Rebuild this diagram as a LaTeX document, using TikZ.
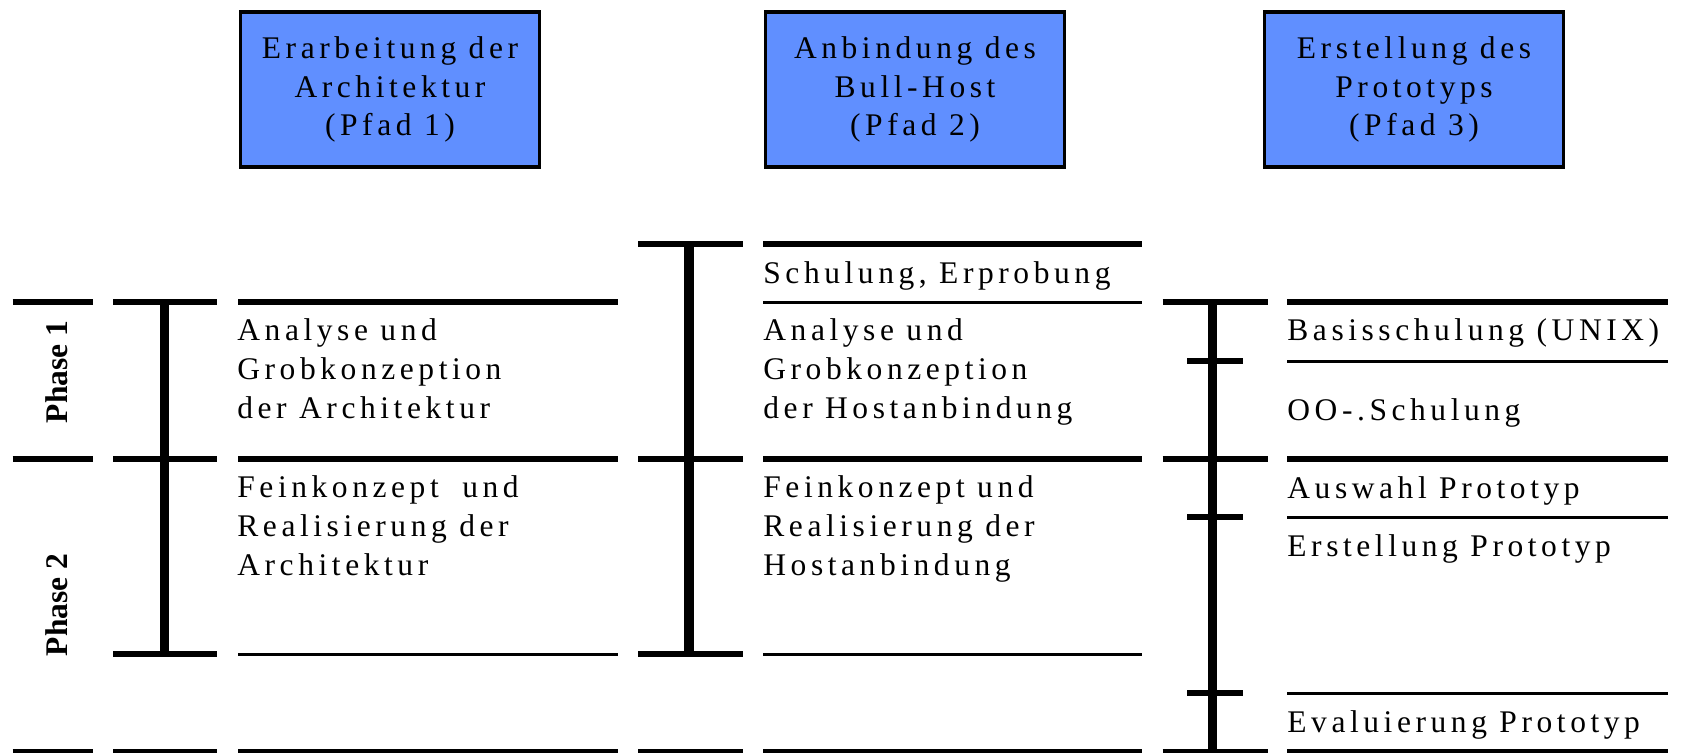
\documentclass[tikz,border=0pt]{standalone}
\usepackage{fontspec}
\setmainfont{Liberation Serif}
\newfontfamily\spacedfont{Liberation Serif}[LetterSpace=14.5]
\usepackage{tikz}
\usetikzlibrary{positioning}
\definecolor{pfadBlue}{RGB}{96,143,255}

\begin{document}
\begin{tikzpicture}[x=0.5pt, y=-0.5pt,
	thickline/.style={line width=3.25pt},
	thinline/.style={line width=1.5pt},
	barline/.style={line width=4.75pt},
	pfadbox/.style={draw=black, fill=pfadBlue, line width=1.75pt, minimum width=149.6pt, minimum height=77.5pt, align=center, inner sep=0pt,
		font=\spacedfont\fontsize{15.75}{19.15}\selectfont},
	entry/.style={anchor=base west, align=left, inner sep=0pt, font=\spacedfont\fontsize{15.75}{19.65}\selectfont},
	phase/.style={rotate=90, inner sep=0pt, font=\bfseries\fontsize{15.75}{19}\selectfont}]

	\useasboundingbox (0,0) rectangle (1685,752);

	% the three paths
	\node[pfadbox] (pfad1) at (390,89.5) {Erarbeitung der\\Architektur\\(Pfad 1)};
	\node[pfadbox] (pfad2) at (915,89.5) {Anbindung des\\Bull-Host\\(Pfad 2)};
	\node[pfadbox] (pfad3) at (1414,89.5) {Erstellung des\\Prototyps\\(Pfad 3)};

	% phases
	\foreach \y in {302,459,752}
		\draw[thickline] (12.5,\y) -- (92.5,\y);
	\node[phase] (phase1) at (57,372) {Phase 1};
	\node[phase] (phase2) at (57,605) {Phase 2};

	% Pfad 1 (base anchor = last line)
	\foreach \y in {302,459,654,752}
		\draw[thickline] (113,\y) -- (217,\y);
	\draw[barline] (164.5,302) -- (164.5,654);
	\foreach \y in {302,459,752}
		\draw[thickline] (238,\y) -- (618,\y);
	\draw[thinline] (238,654) -- (618,654);

	\node[entry] (analyse1) at (237,418.6) {Analyse und\\Grobkonzeption\\der Architektur};
	\node[entry] (fein1) at (237,575.6) {Feinkonzept\hspace{0.35em} und\\Realisierung der\\Architektur};

	% Pfad 2
	\foreach \y in {244,459,654,752}
		\draw[thickline] (638,\y) -- (742.5,\y);
	\draw[barline] (689,244) -- (689,654);
	\foreach \y in {244,459,752}
		\draw[thickline] (763,\y) -- (1142,\y);
	\foreach \y in {302,654}
		\draw[thinline] (763,\y) -- (1142,\y);

	\node[entry] (schulung2) at (763,283) {Schulung, Erprobung};
	\node[entry] (analyse2) at (763,418.6) {Analyse und\\Grobkonzeption\\der Hostanbindung};
	\node[entry] (fein2) at (763,575.6) {Feinkonzept und\\Realisierung der\\Hostanbindung};

	% Pfad 3
	\foreach \y in {302,459,752}
		\draw[thickline] (1162.5,\y) -- (1268,\y);
	\foreach \y in {361,517,693}
		\draw[thickline] (1187,\y) -- (1243,\y);
	\draw[barline] (1212.5,302) -- (1212.5,752);
	\foreach \y in {302,459,752}
		\draw[thickline] (1287,\y) -- (1668,\y);
	\foreach \y in {361,517,693}
		\draw[thinline] (1287,\y) -- (1668,\y);

	\node[entry] (basis3) at (1287,340.5) {Basisschulung (UNIX)};
	\node[entry] (oo3) at (1287,420) {OO-.Schulung};
	\node[entry] (auswahl3) at (1287,498) {Auswahl Prototyp};
	\node[entry] (erstellung3) at (1287,556.5) {Erstellung Prototyp};
	\node[entry] (eval3) at (1287,732.5) {Evaluierung Prototyp};

\end{tikzpicture}
\end{document}
